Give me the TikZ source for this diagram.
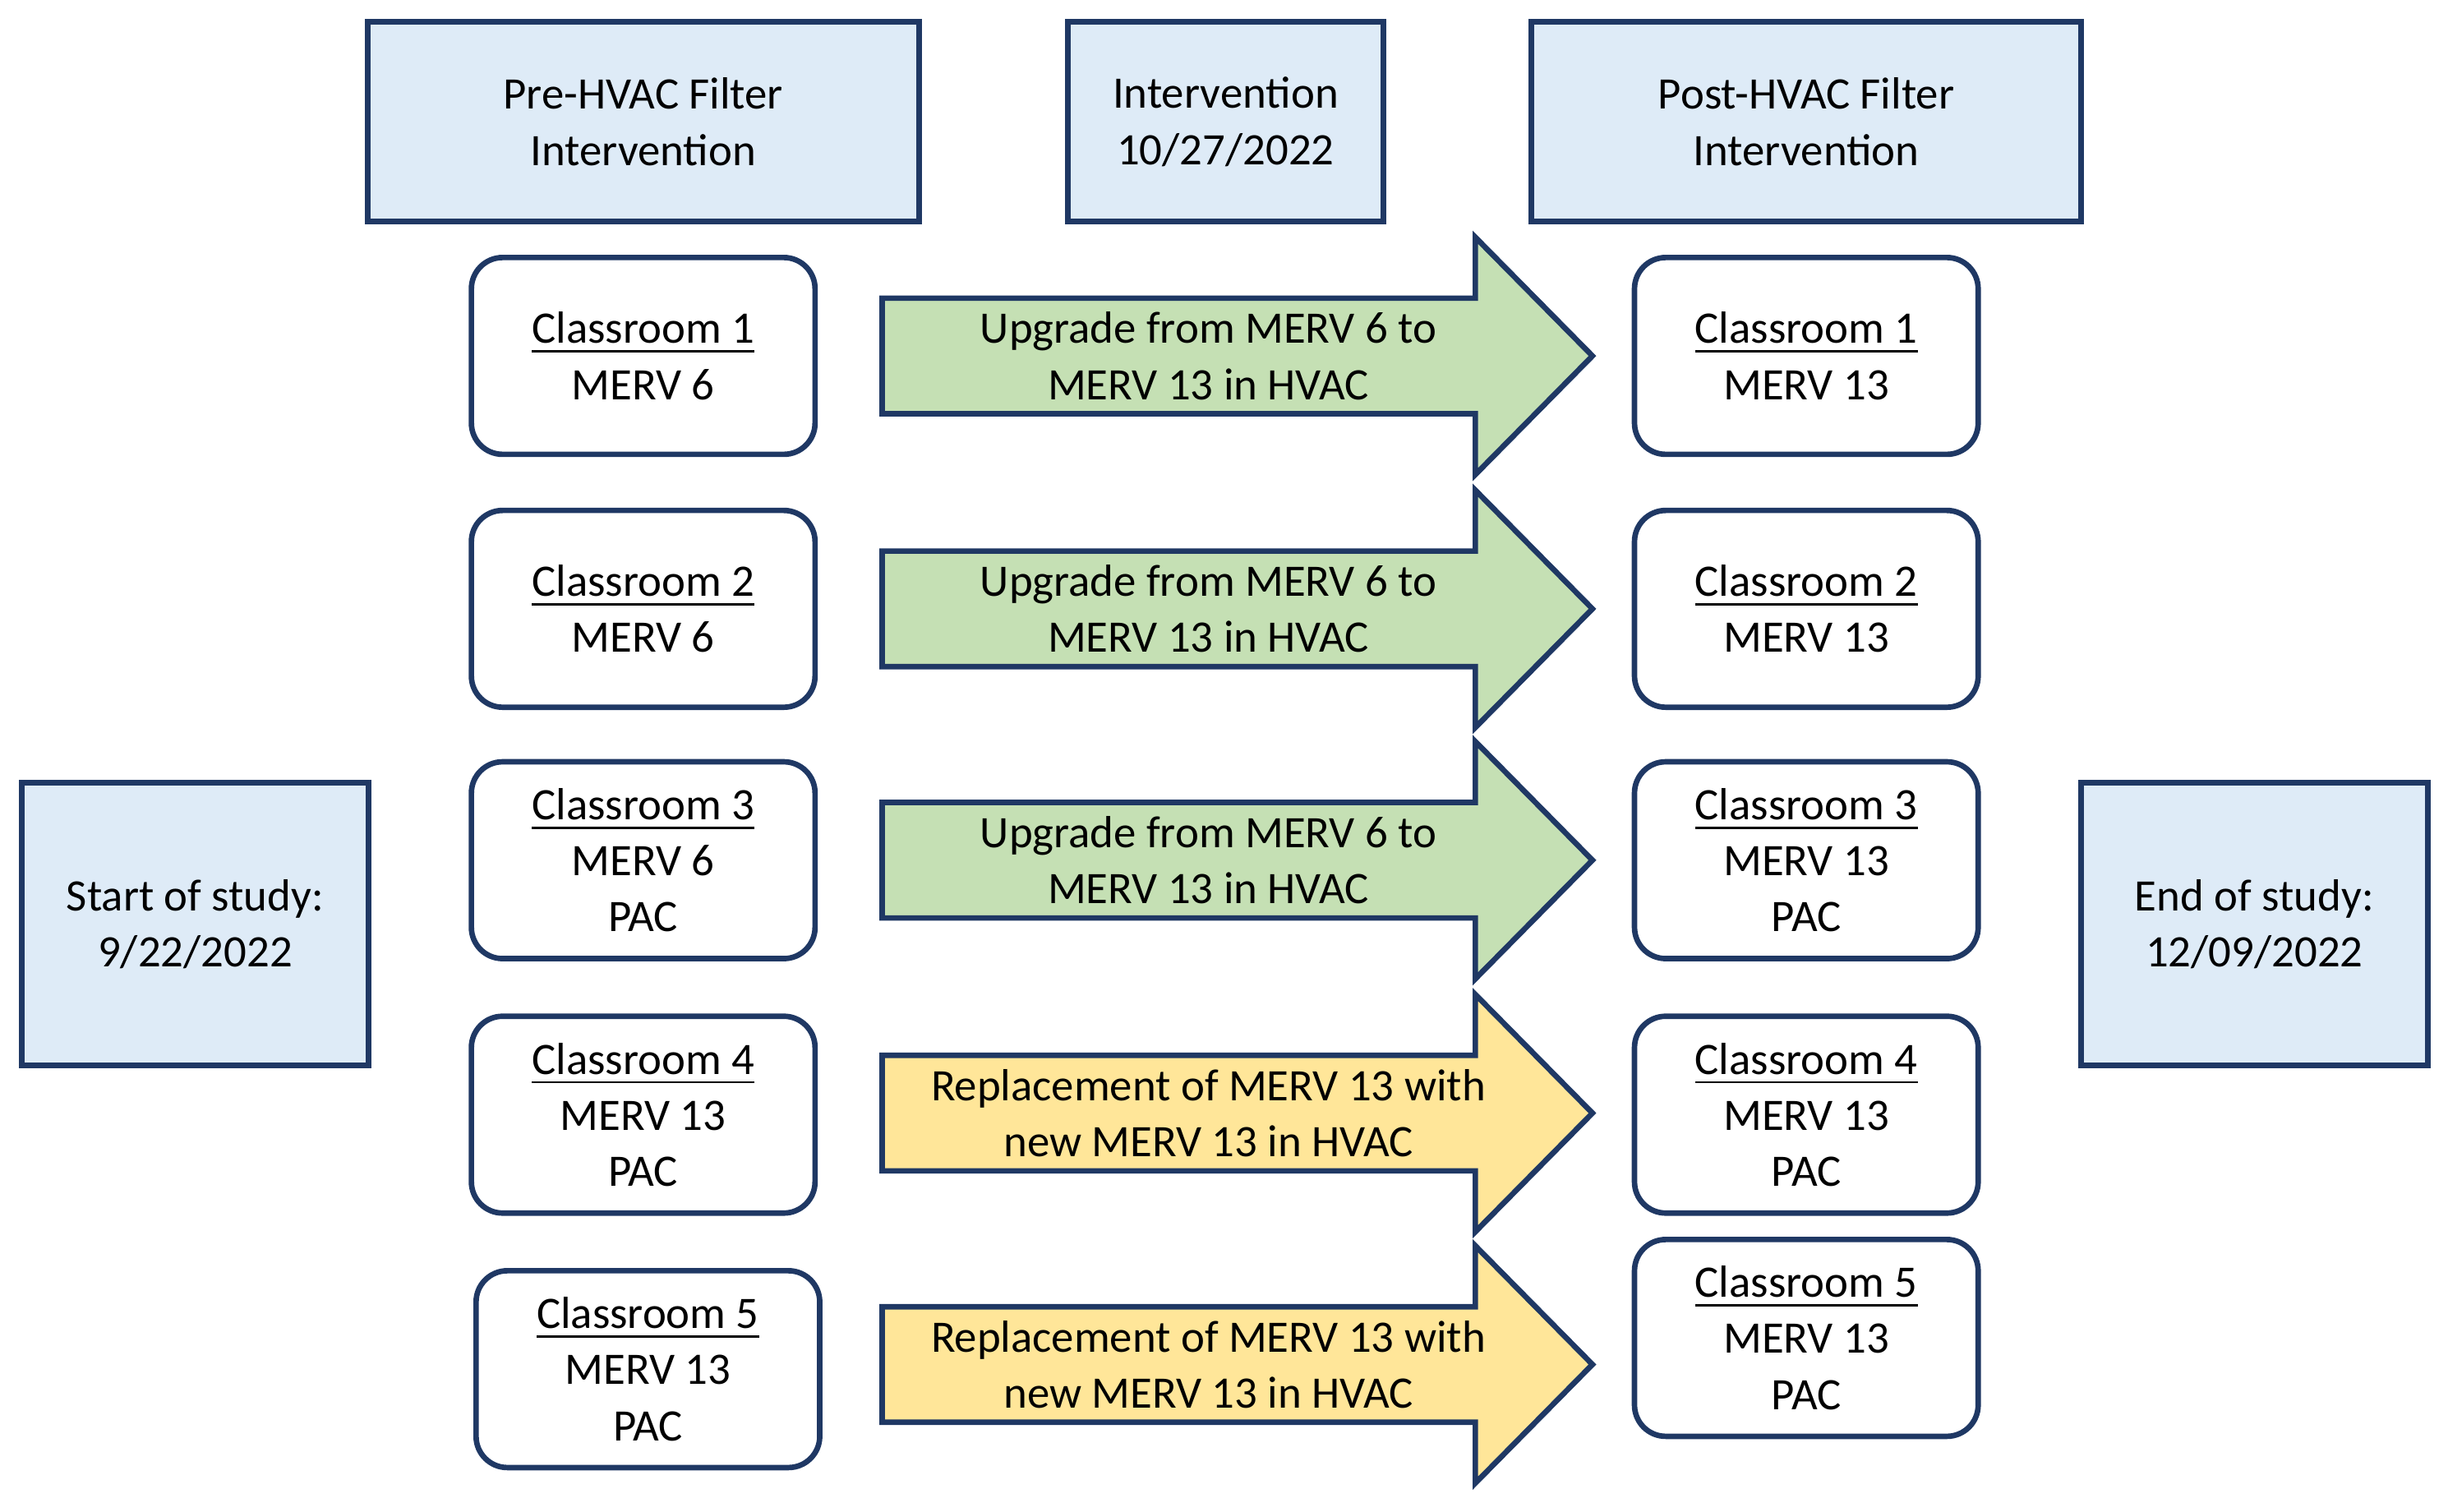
\documentclass[tikz,border=0pt]{standalone}
\usepackage{fontspec}
\setmainfont{Carlito}
\definecolor{boxblue}{HTML}{DEEBF7}
\definecolor{navy}{HTML}{1F3864}
\definecolor{argreen}{HTML}{C5E0B4}
\definecolor{aryellow}{HTML}{FFE699}
\newcommand{\filterarrow}[3]{% fill, y-centre, name
    \draw[arrowbody, fill=#1] (565,#2-37) -- (945,#2-37) -- (945,#2-76) -- (1020,#2)
        -- (945,#2+76) -- (945,#2+37) -- (565,#2+37) -- cycle;
    \coordinate (#3) at (774,#2);}
\begin{document}
\begin{tikzpicture}[
    x=0.01cm, y=-0.01cm,
    header/.style={draw=navy, line width=1pt, fill=boxblue, align=center, font=\fontsize{8.2}{10.2}\selectfont},
    room/.style={draw=navy, line width=1pt, rounded corners=0.2cm, fill=white, minimum width=2.2cm, minimum height=1.26cm, align=center, font=\fontsize{8.2}{10.2}\selectfont},
    arrowbody/.style={draw=navy, line width=1pt, line join=miter},
    arrowtext/.style={align=center, font=\fontsize{8.2}{10.2}\selectfont}
]
    \useasboundingbox (0,0) rectangle (1568,968);

    % Headers
    \node[header, minimum width=3.53cm, minimum height=1.28cm] (pre) at (412,78) {Pre-HVAC Filter\\Intervention};
    \node[header, minimum width=2.02cm, minimum height=1.28cm] (inter) at (785,78) {Intervention\\10/27/2022};
    \node[header, minimum width=3.52cm, minimum height=1.28cm] (post) at (1157,78) {Post-HVAC Filter\\Intervention};
    \node[header, minimum width=2.22cm, minimum height=1.81cm] (start) at (125,592) {Start of study:\\9/22/2022};
    \node[header, minimum width=2.22cm, minimum height=1.81cm] (end) at (1444,592) {End of study:\\12/09/2022};

    % Classrooms before
    \node[room] (pre1) at (412,228) {\underline{Classroom 1}\\MERV 6};
    \node[room] (pre2) at (412,390) {\underline{Classroom 2}\\MERV 6};
    \node[room] (pre3) at (412,551) {\underline{Classroom 3}\\MERV 6\\PAC};
    \node[room] (pre4) at (412,714) {\underline{Classroom 4}\\MERV 13\\PAC};
    \node[room] (pre5) at (415,877) {\underline{Classroom 5}\\MERV 13\\PAC};

    % Classrooms after
    \node[room] (post1) at (1157,228) {\underline{Classroom 1}\\MERV 13};
    \node[room] (post2) at (1157,390) {\underline{Classroom 2}\\MERV 13};
    \node[room] (post3) at (1157,551) {\underline{Classroom 3}\\MERV 13\\PAC};
    \node[room] (post4) at (1157,714) {\underline{Classroom 4}\\MERV 13\\PAC};
    \node[room] (post5) at (1157,857) {\underline{Classroom 5}\\MERV 13\\PAC};

    % Intervention arrows
    \filterarrow{argreen}{228}{arr1}
    \filterarrow{argreen}{390}{arr2}
    \filterarrow{argreen}{551}{arr3}
    \filterarrow{aryellow}{713}{arr4}
    \filterarrow{aryellow}{874}{arr5}
    \node[arrowtext] (lab1) at (arr1) {Upgrade from MERV 6 to\\MERV 13 in HVAC};
    \node[arrowtext] (lab2) at (arr2) {Upgrade from MERV 6 to\\MERV 13 in HVAC};
    \node[arrowtext] (lab3) at (arr3) {Upgrade from MERV 6 to\\MERV 13 in HVAC};
    \node[arrowtext] (lab4) at (arr4) {Replacement of MERV 13 with\\new MERV 13 in HVAC};
    \node[arrowtext] (lab5) at (arr5) {Replacement of MERV 13 with\\new MERV 13 in HVAC};
\end{tikzpicture}
\end{document}
